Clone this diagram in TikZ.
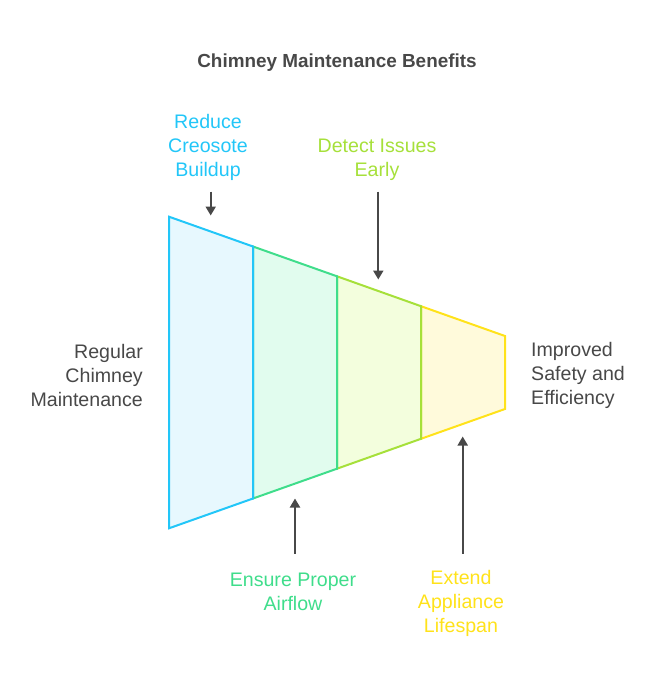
\documentclass[tikz,border=0pt]{standalone}
\usepackage{fontspec}
\setmainfont{Liberation Sans}
\usetikzlibrary{arrows.meta}
\definecolor{ink}{HTML}{484848}
\definecolor{cA}{HTML}{22C6F8}
\definecolor{cB}{HTML}{3FDD8B}
\definecolor{cC}{HTML}{A6E03A}
\definecolor{cD}{HTML}{FFE21A}
\definecolor{fA}{HTML}{E7F8FE}
\definecolor{fB}{HTML}{E1FCEE}
\definecolor{fC}{HTML}{F3FEDD}
\definecolor{fD}{HTML}{FFFADB}
\tikzset{
  lbl/.style={font=\fontsize{19.6}{24}\selectfont, align=center, inner sep=0pt},
  seg/.style={line width=2pt, line join=miter},
  pointer/.style={draw=ink, line width=2pt, -{Triangle[width=10pt,length=9pt]}},
}
\begin{document}
\begin{tikzpicture}[x=1pt,y=-1pt]
\useasboundingbox (0,0) rectangle (662,686);
% segments, right to left so each right edge shows its own colour
\draw[seg, draw=cD, fill=fD] (421,306.2) -- (505,336) -- (505,409) -- (421,438.8) -- cycle;
\draw[seg, draw=cC, fill=fC] (337,276.3) -- (421,306.2) -- (421,438.8) -- (337,468.7) -- cycle;
\draw[seg, draw=cB, fill=fB] (253,246.5) -- (337,276.3) -- (337,468.7) -- (253,498.5) -- cycle;
\draw[seg, draw=cA, fill=fA] (169,216.7) -- (253,246.5) -- (253,498.5) -- (169,528.3) -- cycle;

\node[lbl, font=\bfseries\fontsize{18.9}{24}\selectfont, text=ink] (title) at (337,63) {Chimney Maintenance Benefits};

\node[lbl, text=cA] (reduce) at (208,147.5) {Reduce\\Creosote\\Buildup};
\node[lbl, text=cC] (detect) at (377,159.5) {Detect Issues\\Early};
\node[lbl, text=cB] (ensure) at (293,591.5) {Ensure Proper\\Airflow};
\node[lbl, text=cD] (extend) at (461,603.5) {Extend\\Appliance\\Lifespan};
\node[lbl, text=ink, align=right, anchor=east] (start) at (143,375.5) {Regular\\Chimney\\Maintenance};
\node[lbl, text=ink, align=left, anchor=west] (goal) at (531,375.5) {Improved\\Safety and\\Efficiency};

\coordinate (a1s) at (210.7,191.5); \coordinate (a1e) at (210.7,215.5);
\coordinate (a2s) at (378.3,191.5); \coordinate (a2e) at (378.3,279.5);
\coordinate (a3s) at (295,553.5);   \coordinate (a3e) at (295,498.5);
\coordinate (a4s) at (462.7,553.5); \coordinate (a4e) at (462.7,436.5);
\draw[pointer] (a1s) -- (a1e);
\draw[pointer] (a2s) -- (a2e);
\draw[pointer] (a3s) -- (a3e);
\draw[pointer] (a4s) -- (a4e);
\end{tikzpicture}
\end{document}
